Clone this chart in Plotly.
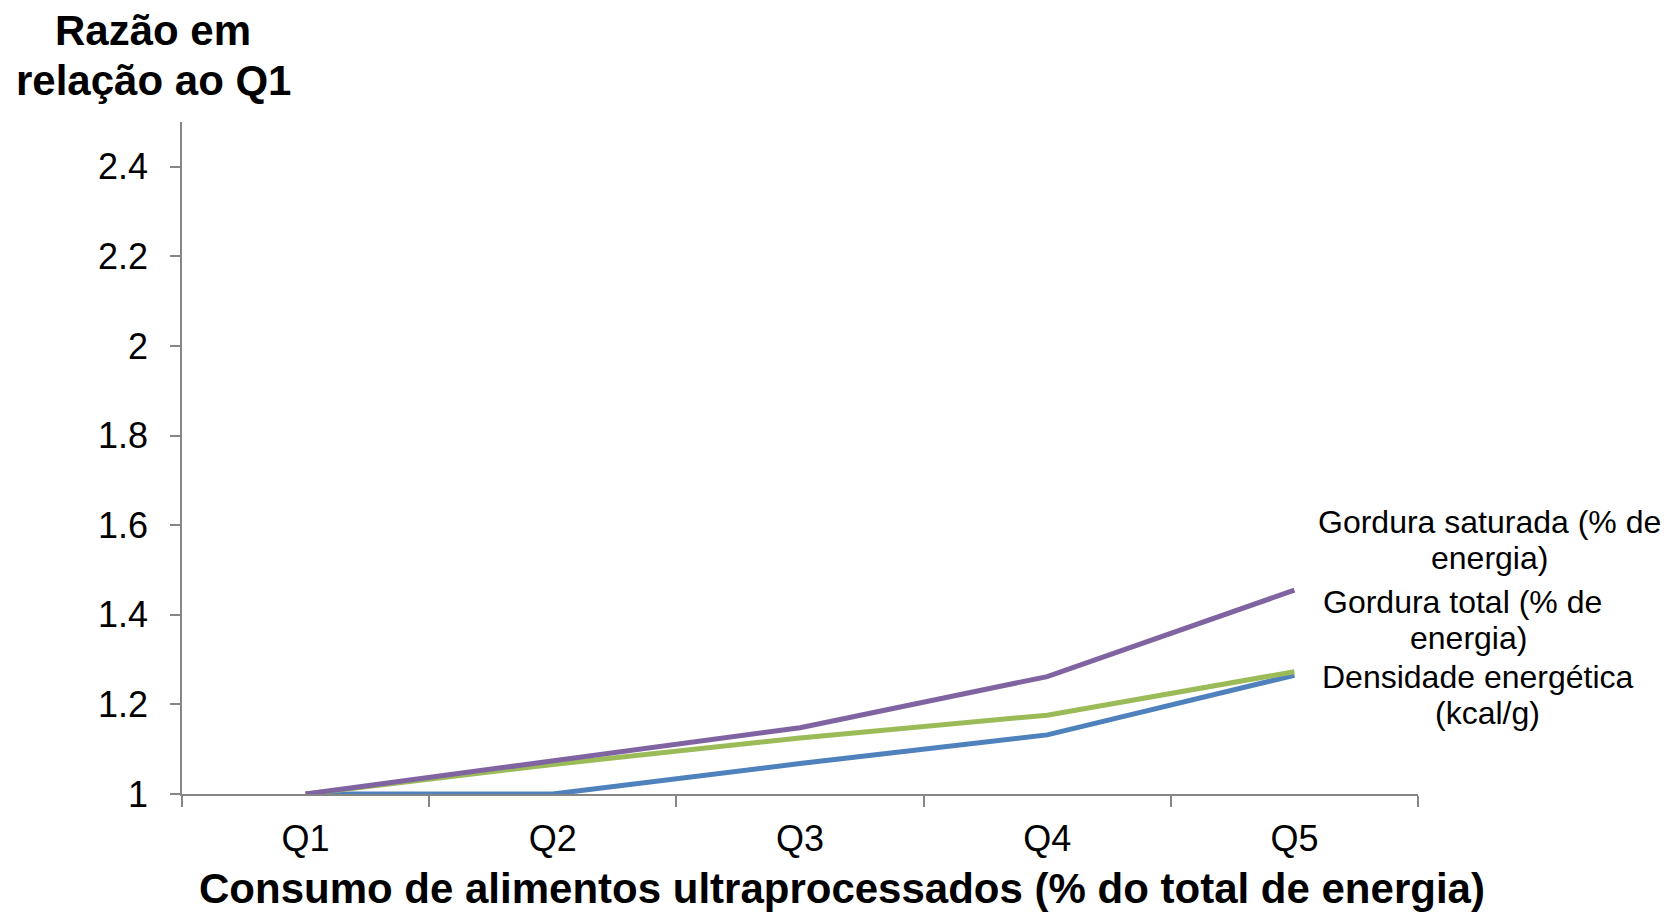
import plotly.graph_objects as go

categories = ["Q1", "Q2", "Q3", "Q4", "Q5"]
densidade = [1.0, 1.0, 1.068, 1.132, 1.265]
gordura_total = [1.0, 1.066, 1.125, 1.176, 1.273]
gordura_saturada = [1.0, 1.075, 1.148, 1.262, 1.455]
y_ticks = [1, 1.2, 1.4, 1.6, 1.8, 2, 2.2, 2.4]
y_tick_text = ["1", "1.2", "1.4", "1.6", "1.8", "2", "2.2", "2.4"]

FONT = "Liberation Sans, Arial, sans-serif"
W, H = 1667, 913
L, R, T, B = 182, 249, 122, 119

fig = go.Figure()
fig.add_trace(go.Scatter(x=categories, y=densidade, mode="lines",
                         line=dict(color="#4F81BD", width=5), name="Densidade energética (kcal/g)"))
fig.add_trace(go.Scatter(x=categories, y=gordura_total, mode="lines",
                         line=dict(color="#9BBB59", width=5), name="Gordura total (% de energia)"))
fig.add_trace(go.Scatter(x=categories, y=gordura_saturada, mode="lines",
                         line=dict(color="#8064A2", width=5), name="Gordura saturada (% de energia)"))

def px_to_paper_x(px):
    return (px - L) / (W - L - R)

def px_to_paper_y(py):
    return (H - B - py) / (H - T - B)

labels = [
    ("Gordura saturada (% de", 1489, 522),
    ("energia)", 1489, 558),
    ("Gordura total (% de", 1462, 602),
    ("energia)", 1468, 638),
    ("Densidade energética", 1478, 677),
    ("(kcal/g)", 1487, 713),
]
annotations = []
for text, px, py in labels:
    annotations.append(dict(text=text, x=px_to_paper_x(px), y=px_to_paper_y(py),
                            xref="paper", yref="paper", xanchor="center", yanchor="middle",
                            showarrow=False, font=dict(family=FONT, size=32, color="#000")))

annotations.append(dict(text="<b>Razão em</b>", x=px_to_paper_x(153), y=px_to_paper_y(30),
                        xref="paper", yref="paper", xanchor="center", yanchor="middle",
                        showarrow=False, font=dict(family=FONT, size=42, color="#000")))
annotations.append(dict(text="<b>relação ao Q1</b>", x=px_to_paper_x(153), y=px_to_paper_y(80),
                        xref="paper", yref="paper", xanchor="center", yanchor="middle",
                        showarrow=False, font=dict(family=FONT, size=42, color="#000")))
annotations.append(dict(text="<b>Consumo de alimentos ultraprocessados (% do total de energia)</b>",
                        x=px_to_paper_x(842), y=px_to_paper_y(888),
                        xref="paper", yref="paper", xanchor="center", yanchor="middle",
                        showarrow=False, font=dict(family=FONT, size=42, color="#000")))

fig.update_layout(
    width=W, height=H,
    margin=dict(l=L, r=R, t=T, b=B, pad=0),
    paper_bgcolor="white", plot_bgcolor="white",
    showlegend=False,
    annotations=annotations,
    font=dict(family=FONT, color="#000"),
)
fig.update_xaxes(
    type="category", categoryorder="array", categoryarray=categories,
    range=[-0.5, 4.5], showgrid=False, zeroline=False,
    showline=True, linecolor="#868686", linewidth=1.5,
    ticks="outside", tickson="boundaries", ticklen=11, tickcolor="#868686", tickwidth=1.5,
    tickfont=dict(family=FONT, size=36, color="#000"), ticklabelstandoff=12,
)
fig.update_yaxes(
    range=[1, 2.5], tickvals=y_ticks, ticktext=y_tick_text,
    showgrid=False, zeroline=False,
    showline=True, linecolor="#868686", linewidth=1.5,
    ticks="outside", ticklen=10, tickcolor="#868686", tickwidth=1.5,
    tickfont=dict(family=FONT, size=36, color="#000"), ticklabelstandoff=15,
)

fig.write_html("out.html", config={"displayModeBar": False},
               post_script="document.body.style.margin='0';document.body.style.overflow='hidden';")
